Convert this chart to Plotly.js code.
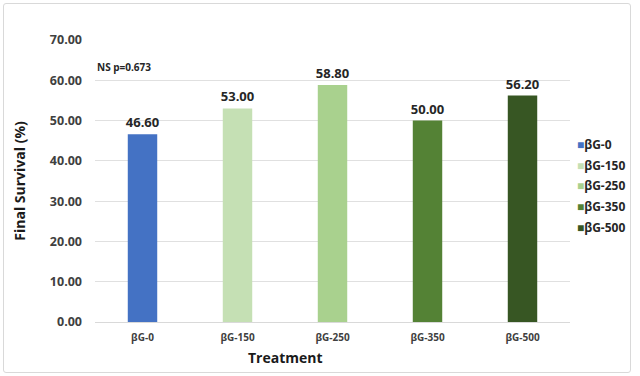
<!DOCTYPE html>
<html><head><meta charset="utf-8">
<script src="https://cdn.plot.ly/plotly-3.0.1.min.js"></script>
<style>
html,body{margin:0;padding:0;background:#fff;}
#frame{position:absolute;left:3px;top:3px;width:626px;height:368px;border:1px solid #d9d9d9;border-radius:3px;}
#chart{position:absolute;left:0;top:0;width:640px;height:376px;}
</style></head>
<body><div id="frame"></div><div id="chart"></div>
<script>
const categories = ["βG-0","βG-150","βG-250","βG-350","βG-500"];
const survival = [46.60, 53.00, 58.80, 50.00, 56.20];
const colors = ["#4472C4","#C5E0B4","#A9D18E","#548235","#375623"];
const yTicks = [0,10,20,30,40,50,60,70];

const font = "Open Sans, Noto Sans, sans-serif";
const bars = categories.map((c,i)=>({
  type:'bar', name:c, x:[c], y:[survival[i]], showlegend:false,
  marker:{color:colors[i]}, width:0.31,
  text:[survival[i].toFixed(2)], textposition:'outside', constraintext:'none',
  textfont:{family:font, size:13, color:'#262626', weight:700},
  cliponaxis:false, hoverinfo:'skip'
}));

// legend drawn as text annotations
const legendAnn = categories.map((c,i)=>({
  xref:'paper', yref:'paper', x:1.01, y:0.63 - i*0.0735, xanchor:'left', yanchor:'middle',
  showarrow:false, align:'left',
  text:'<span style="color:'+colors[i]+';font-size:12px">■</span>'+c,
  font:{family:font, size:12, color:'#262626', weight:700}
}));

const layout = {
  width:640, height:376,
  margin:{l:95, r:70, t:40, b:54, autoexpand:false},
  paper_bgcolor:'rgba(0,0,0,0)', plot_bgcolor:'rgba(0,0,0,0)',
  barmode:'overlay', showlegend:false,
  font:{family:font, color:'#262626'},
  xaxis:{categoryorder:'array', categoryarray:categories,
    tickfont:{family:font, size:10, color:'#404040', weight:700},
    showline:true, linecolor:'#d9d9d9', ticks:'outside', ticklen:6, tickcolor:'rgba(0,0,0,0)'},
  yaxis:{range:[0,70], tickvals:yTicks, ticktext:yTicks.map(v=>v.toFixed(2)),
    showgrid:true, gridcolor:'#e0e0e0', zeroline:false, showline:false,
    tickfont:{family:font, size:12.5, color:'#404040', weight:700}, ticks:'', ticklabelstandoff:12,
    title:{text:'Final Survival (%)', font:{family:font, size:14, color:'#1a1a1a', weight:700}, standoff:20}},
  annotations:[
    {xref:'paper', yref:'y', x:0.0, y:63.3, xanchor:'left', yanchor:'middle',
     text:'NS p=0.673', showarrow:false, font:{family:font, size:10, color:'#262626', weight:700}},
    {xref:'paper', yref:'paper', x:0.4, y:-0.125, xanchor:'center', yanchor:'middle',
     text:'Treatment', showarrow:false, font:{family:font, size:14, color:'#1a1a1a', weight:700}}
  ].concat(legendAnn)
};
Plotly.newPlot('chart', bars, layout, {displayModeBar:false, staticPlot:true});
</script></body></html>
